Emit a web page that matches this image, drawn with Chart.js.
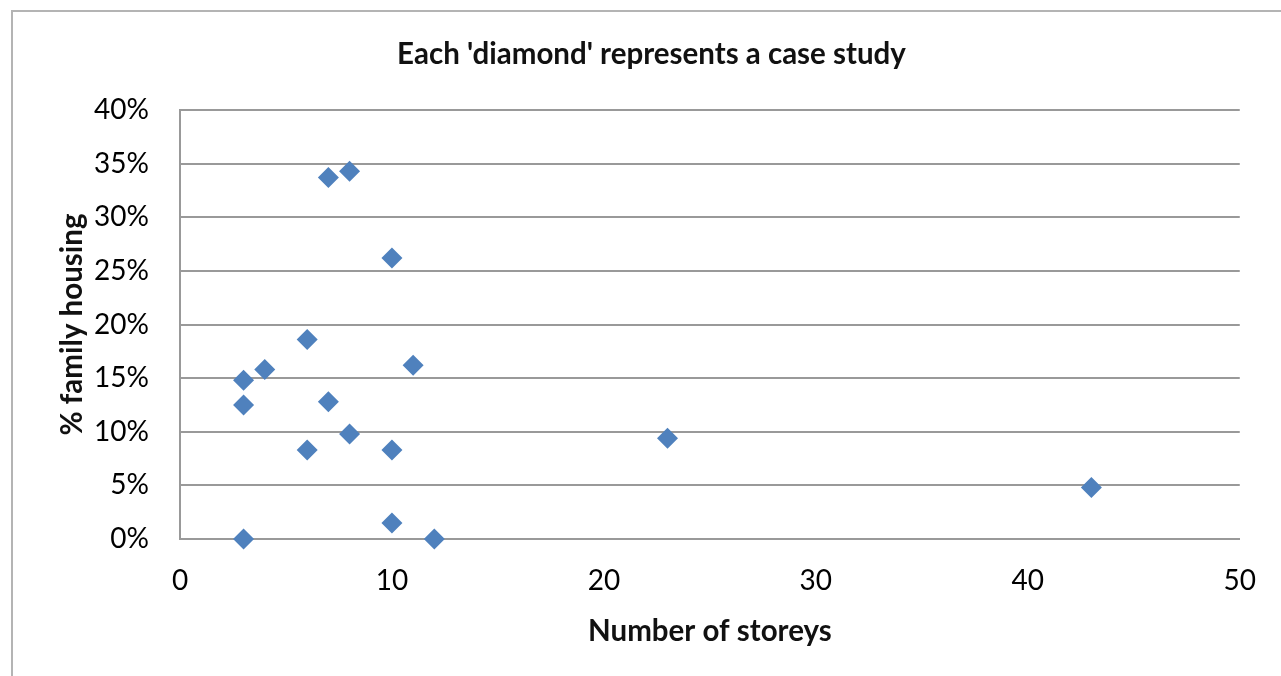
<!DOCTYPE html>
<html>
<head>
<meta charset="utf-8">
<title>Each 'diamond' represents a case study</title>
<script src="https://cdn.jsdelivr.net/npm/chart.js@4"></script>
<style>
  html, body { margin: 0; padding: 0; background: #fff; overflow: hidden; }
  #wrap { position: relative; width: 1281px; height: 676px; }
  #frame {
    position: absolute; left: 11px; top: 10px; width: 1400px; height: 800px;
    border-left: 2px solid #b4b4b4; border-top: 2px solid #b4b4b4;
    pointer-events: none;
  }
</style>
</head>
<body>
<div id="wrap">
  <canvas id="scatter" width="1281" height="676"></canvas>
  <div id="frame"></div>
</div>
<script>
// Case studies: storeys vs share of family housing (%)
const storeys   = [3, 3,    3,    4,    6,   6,    7,    7,    8,   8,    10,  10,  10,   11,   12, 23,  43];
const familyPct = [0, 12.5, 14.8, 15.8, 8.3, 18.6, 12.8, 33.7, 9.8, 34.3, 1.5, 8.3, 26.2, 16.2, 0,  9.4, 4.8];

const xTicks = [0, 10, 20, 30, 40, 50];
const yTicks = [0, 5, 10, 15, 20, 25, 30, 35, 40];

const TITLE = "Each 'diamond' represents a case study";
const X_TITLE = 'Number of storeys';
const Y_TITLE = '% family housing';

const FONT = "Lato, 'Open Sans', sans-serif";
const GRID = '#999999';
const TITLE_SIZE = 29.5;

const points = storeys.map((s, i) => ({ x: s, y: familyPct[i] }));

new Chart(document.getElementById('scatter'), {
  type: 'scatter',
  data: {
    datasets: [{
      data: points,
      pointStyle: 'rectRot',
      pointRadius: 10.5,
      pointHoverRadius: 10.5,
      backgroundColor: '#4f81bd',
      borderColor: '#4f81bd',
      borderWidth: 0,
      clip: false
    }]
  },
  options: {
    responsive: false,
    animation: false,
    // left padding + spacer axis on the right keep the title where Excel put it
    layout: { padding: { left: 22, top: 0, right: 0, bottom: 0 } },
    plugins: {
      legend: { display: false },
      tooltip: { enabled: false },
      title: {
        display: true,
        text: TITLE,
        color: '#111',
        font: { family: FONT, size: TITLE_SIZE, weight: 'bold' },
        padding: { top: 37, bottom: 37.6 }
      }
    },
    scales: {
      x: {
        type: 'linear',
        min: 0,
        max: 50,
        afterBuildTicks: (scale) => { scale.ticks = xTicks.map(v => ({ value: v })); },
        afterFit: (scale) => { scale.height = 137; },
        grid: { display: false, drawTicks: false },
        border: { display: true, color: GRID, width: 2 },
        ticks: {
          color: '#000',
          padding: 25,
          font: { family: FONT, size: 28 },
          maxRotation: 0
        },
        title: {
          display: true,
          text: X_TITLE,
          color: '#111',
          font: { family: FONT, size: TITLE_SIZE, weight: 'bold' },
          padding: { top: 0, bottom: 27 }
        }
      },
      y: {
        type: 'linear',
        position: 'left',
        min: 0,
        max: 40,
        afterBuildTicks: (scale) => { scale.ticks = yTicks.map(v => ({ value: v })); },
        afterFit: (scale) => { scale.width = 158; },
        grid: { color: GRID, lineWidth: 2, drawTicks: false },
        border: { display: true, color: GRID, width: 2 },
        ticks: {
          color: '#000',
          padding: 31,
          font: { family: FONT, size: 28 },
          callback: (v) => v + '%'
        },
        title: {
          display: true,
          text: Y_TITLE,
          color: '#111',
          font: { family: FONT, size: TITLE_SIZE, weight: 'bold' },
          padding: { top: 33, bottom: 0 }
        }
      },
      spacer: {
        type: 'linear',
        position: 'right',
        min: 0,
        max: 40,
        afterFit: (scale) => { scale.width = 38; },
        grid: { display: false, drawTicks: false },
        border: { display: false },
        ticks: { display: false }
      }
    }
  }
});
</script>
</body>
</html>
